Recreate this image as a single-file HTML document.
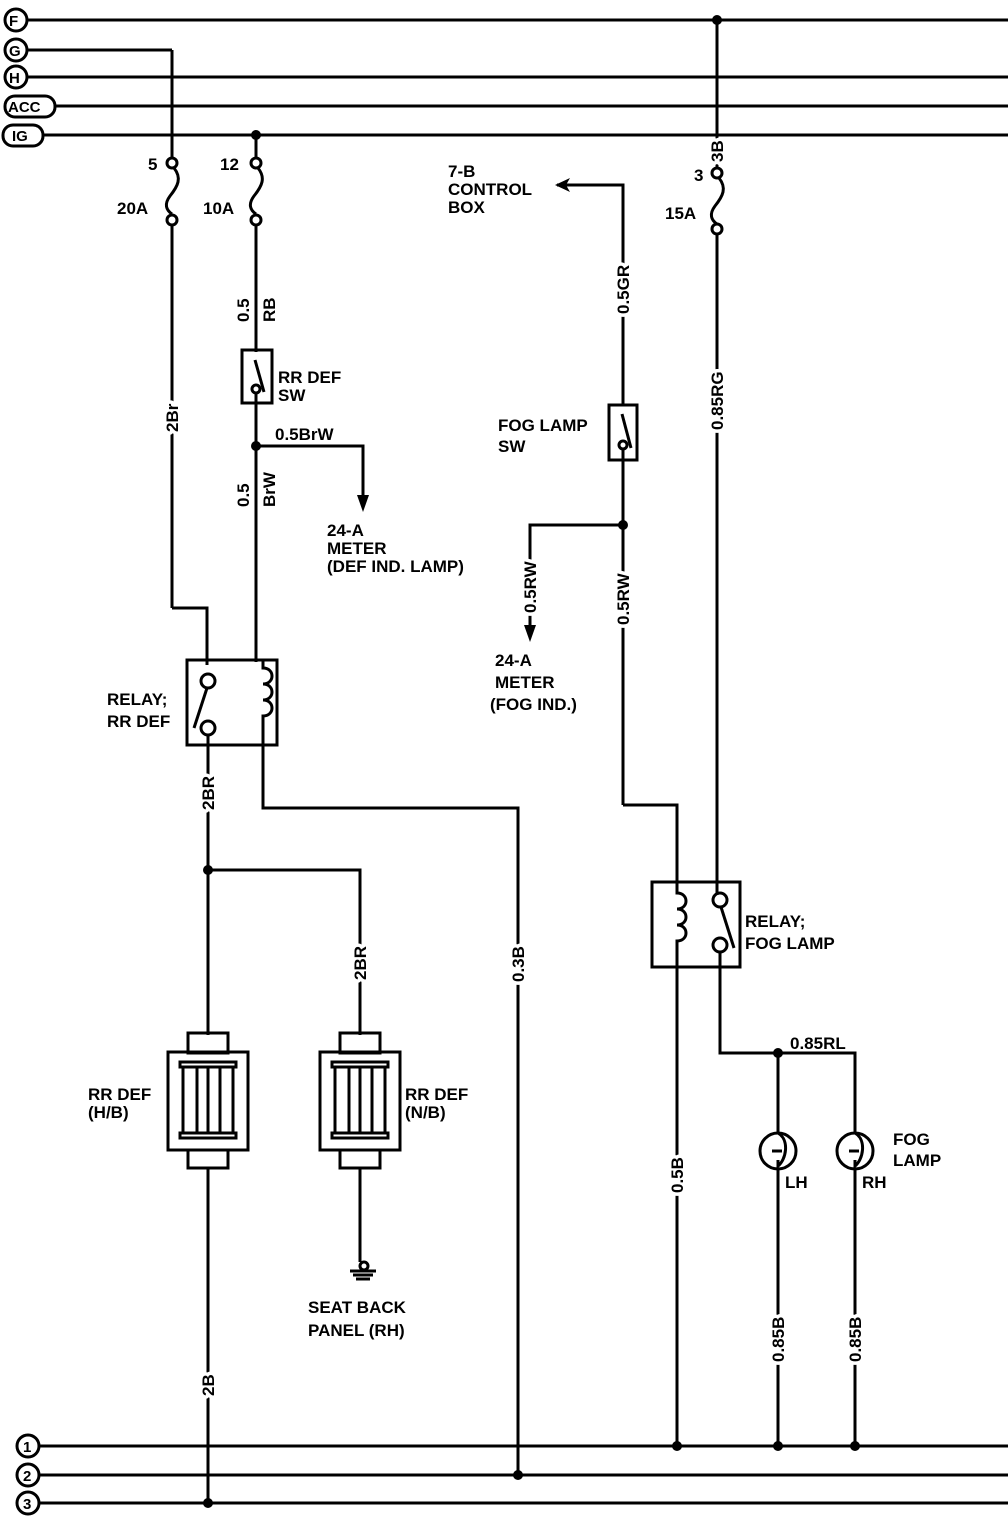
<!DOCTYPE html>
<html><head><meta charset="utf-8"><style>
html,body{margin:0;padding:0;background:#fff}
svg{display:block}
text{font-family:"Liberation Sans",sans-serif;font-weight:bold;font-size:17px;fill:#000}
.v text{stroke:#fff;stroke-width:7px;paint-order:stroke;stroke-linejoin:round}
</style></head><body>
<svg width="1008" height="1526" viewBox="0 0 1008 1526" xmlns="http://www.w3.org/2000/svg">
<g stroke="#000" stroke-width="3" fill="none">
<line x1="28" y1="20" x2="1008" y2="20"/>
<line x1="28" y1="50" x2="172" y2="50"/>
<line x1="28" y1="77" x2="1008" y2="77"/>
<line x1="55" y1="106" x2="1008" y2="106"/>
<line x1="42" y1="135" x2="1008" y2="135"/>
<circle cx="16" cy="20" r="11"/><circle cx="16" cy="50" r="11"/><circle cx="16" cy="77" r="11"/>
<rect x="5" y="96" width="50" height="21" rx="10"/><rect x="3" y="125" width="40" height="21" rx="10"/>
<line x1="40" y1="1446" x2="1008" y2="1446"/>
<line x1="40" y1="1475" x2="1008" y2="1475"/>
<line x1="40" y1="1503" x2="1008" y2="1503"/>
<circle cx="28" cy="1446" r="11"/><circle cx="28" cy="1475" r="11"/><circle cx="28" cy="1503" r="11"/>

<line x1="172" y1="50" x2="172" y2="158"/>
<circle cx="172" cy="163" r="5"/>
<path d="M174 168 C182 178 178 186 170 196 C164 204 166 210 172 214"/>
<circle cx="172" cy="220" r="5"/>
<line x1="172" y1="225" x2="172" y2="608"/>
<polyline points="172,608 207,608 207,665"/>
<line x1="256" y1="135" x2="256" y2="158"/>
<circle cx="256" cy="163" r="5"/>
<path d="M258 168 C266 178 262 186 254 196 C248 204 250 210 256 214"/>
<circle cx="256" cy="220" r="5"/>
<line x1="256" y1="225" x2="256" y2="352"/>
<rect x="242" y="350" width="30" height="53"/>
<circle cx="256" cy="389" r="4"/>
<line x1="255" y1="360" x2="264" y2="392"/>
<line x1="256" y1="393" x2="256" y2="662"/>
<polyline points="256,446 363,446 363,505"/>
<rect x="187" y="660" width="90" height="85"/>
<circle cx="208" cy="681" r="7"/><circle cx="208" cy="728" r="7"/>
<line x1="207" y1="688" x2="194" y2="728"/>
<path d="M263 660 L263 668 C275 668 275 684 263 684 C275 684 275 700 263 700 C275 700 275 716 263 716 L263 745"/>
<line x1="208" y1="735" x2="208" y2="1035"/>
<polyline points="263,745 263,808 518,808 518,1475"/>
<polyline points="208,870 360,870 360,1035"/>
<rect x="188" y="1033" width="40" height="20"/>
<rect x="168" y="1052" width="80" height="98"/>
<rect x="180" y="1062" width="56" height="5"/>
<rect x="180" y="1133" width="56" height="5"/>
<line x1="183" y1="1067" x2="183" y2="1133"/><line x1="197" y1="1067" x2="197" y2="1133"/><line x1="208" y1="1067" x2="208" y2="1133"/><line x1="220" y1="1067" x2="220" y2="1133"/><line x1="233" y1="1067" x2="233" y2="1133"/>
<rect x="188" y="1150" width="40" height="18"/>
<line x1="208" y1="1168" x2="208" y2="1503"/>
<rect x="340" y="1033" width="40" height="20"/>
<rect x="320" y="1052" width="80" height="98"/>
<rect x="332" y="1062" width="56" height="5"/>
<rect x="332" y="1133" width="56" height="5"/>
<line x1="335" y1="1067" x2="335" y2="1133"/><line x1="349" y1="1067" x2="349" y2="1133"/><line x1="360" y1="1067" x2="360" y2="1133"/><line x1="372" y1="1067" x2="372" y2="1133"/><line x1="385" y1="1067" x2="385" y2="1133"/>
<rect x="340" y="1150" width="40" height="18"/>
<line x1="360" y1="1168" x2="360" y2="1262"/>
<circle cx="364" cy="1266" r="4"/>
<line x1="350" y1="1271" x2="376" y2="1271"/><line x1="353" y1="1275" x2="373" y2="1275"/><line x1="356" y1="1279" x2="370" y2="1279"/>

<line x1="717" y1="20" x2="717" y2="168"/>
<circle cx="717" cy="173" r="5"/>
<path d="M719 178 C727 188 723 196 715 206 C709 214 711 220 717 224"/>
<circle cx="717" cy="229" r="5"/>
<line x1="717" y1="234" x2="717" y2="895"/>
<polyline points="557,185 623,185 623,406"/>
<rect x="609" y="405" width="28" height="55"/>
<circle cx="623" cy="445" r="4"/>
<line x1="622" y1="414" x2="631" y2="448"/>
<line x1="623" y1="449" x2="623" y2="805"/>
<polyline points="623,525 530,525 530,635"/>
<polyline points="623,805 677,805 677,885"/>
<rect x="652" y="882" width="88" height="85"/>
<path d="M677 882 L677 893 C689 893 689 909 677 909 C689 909 689 925 677 925 C689 925 689 941 677 941 L677 967"/>
<circle cx="720" cy="900" r="7"/><circle cx="720" cy="945" r="7"/>
<line x1="721" y1="907" x2="734" y2="948"/>
<line x1="677" y1="967" x2="677" y2="1446"/>
<polyline points="720,952 720,1053 855,1053 855,1133"/>
<line x1="778" y1="1053" x2="778" y2="1133"/>
<circle cx="778" cy="1151" r="18"/><circle cx="855" cy="1151" r="18"/>
<path d="M778 1133 C790 1140 786 1160 778 1166 L778 1160 M772 1151 L782 1151"/>
<path d="M855 1133 C867 1140 863 1160 855 1166 L855 1160 M849 1151 L859 1151"/>
<line x1="778" y1="1169" x2="778" y2="1446"/>
<line x1="855" y1="1169" x2="855" y2="1446"/>
</g>
<g fill="#000">
<circle cx="717" cy="20" r="5"/><circle cx="256" cy="135" r="5"/><circle cx="256" cy="446" r="5"/>
<circle cx="208" cy="870" r="5"/><circle cx="623" cy="525" r="5"/><circle cx="778" cy="1053" r="5"/>
<circle cx="677" cy="1446" r="5"/><circle cx="778" cy="1446" r="5"/><circle cx="855" cy="1446" r="5"/>
<circle cx="518" cy="1475" r="5"/><circle cx="208" cy="1503" r="5"/>
<polygon points="357,495 369,495 363,512"/>
<polygon points="524,625 536,625 530,642"/>
<polygon points="555,185 570,178 566,185 570,192"/>
</g>
<g>
<text x="9" y="26" style="font-size:15px">F</text><text x="9" y="56" style="font-size:15px">G</text><text x="9" y="83" style="font-size:15px">H</text>
<text x="8" y="112" style="font-size:15px">ACC</text><text x="12" y="141" style="font-size:15px">IG</text>
<text x="23" y="1452" style="font-size:15px">1</text><text x="23" y="1481" style="font-size:15px">2</text><text x="23" y="1509" style="font-size:15px">3</text>
</g>
<text x="148" y="170">5</text><text x="117" y="214">20A</text>
<text x="220" y="170">12</text><text x="203" y="214">10A</text>
<text x="694" y="181">3</text><text x="665" y="219">15A</text>
<g class="v">
<text transform="translate(249,322) rotate(-90)">0.5</text>
<text transform="translate(275,322) rotate(-90)">RB</text>
<text transform="translate(178,432) rotate(-90)">2Br</text>
<text transform="translate(249,507) rotate(-90)">0.5</text>
<text transform="translate(275,507) rotate(-90)">BrW</text>
<text transform="translate(214,810) rotate(-90)">2BR</text>
<text transform="translate(366,980) rotate(-90)">2BR</text>
<text transform="translate(524,982) rotate(-90)">0.3B</text>
<text transform="translate(214,1396) rotate(-90)">2B</text>
<text transform="translate(629,314) rotate(-90)">0.5GR</text>
<text transform="translate(536,613) rotate(-90)">0.5RW</text>
<text transform="translate(629,625) rotate(-90)">0.5RW</text>
<text transform="translate(723,430) rotate(-90)">0.85RG</text>
<text transform="translate(723,162) rotate(-90)">3B</text>
<text transform="translate(683,1193) rotate(-90)">0.5B</text>
<text transform="translate(784,1362) rotate(-90)">0.85B</text>
<text transform="translate(861,1362) rotate(-90)">0.85B</text>
</g>
<text x="278" y="383">RR DEF</text><text x="278" y="401">SW</text>
<text x="275" y="440">0.5BrW</text>
<text x="327" y="536">24-A</text><text x="327" y="554">METER</text><text x="327" y="572">(DEF IND. LAMP)</text>
<text x="107" y="705">RELAY;</text><text x="107" y="727">RR DEF</text>
<text x="448" y="177">7-B</text><text x="448" y="195">CONTROL</text><text x="448" y="213">BOX</text>
<text x="498" y="431">FOG LAMP</text><text x="498" y="452">SW</text>
<text x="495" y="666">24-A</text><text x="495" y="688">METER</text><text x="490" y="710">(FOG IND.)</text>
<text x="745" y="927">RELAY;</text><text x="745" y="949">FOG LAMP</text>
<text x="790" y="1049">0.85RL</text>
<text x="893" y="1145">FOG</text><text x="893" y="1166">LAMP</text>
<text x="785" y="1188">LH</text><text x="862" y="1188">RH</text>
<text x="88" y="1100">RR DEF</text><text x="88" y="1118">(H/B)</text>
<text x="405" y="1100">RR DEF</text><text x="405" y="1118">(N/B)</text>
<text x="308" y="1313">SEAT BACK</text><text x="308" y="1336">PANEL (RH)</text>
</svg>
</body></html>
